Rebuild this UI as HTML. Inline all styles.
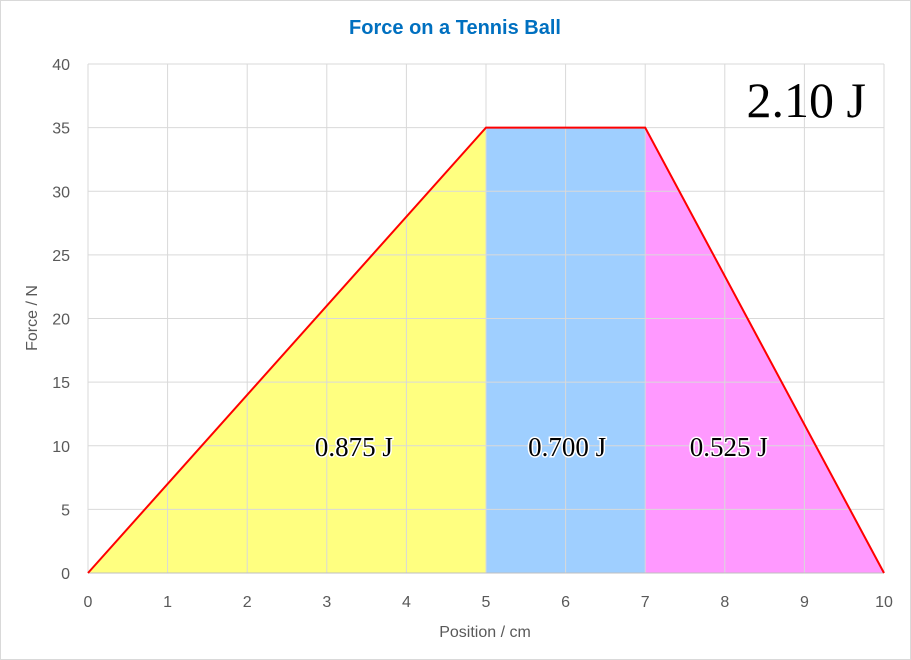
<!DOCTYPE html>
<html><head><meta charset="utf-8"><style>
body{margin:0;background:#fff}
svg{display:block}
text{font-family:"Liberation Sans",sans-serif}
</style></head><body>
<svg id="c" width="911" height="660">
<rect x="0.5" y="0.5" width="910" height="659" fill="#fff" stroke="#d9d9d9"/>
<text x="455" y="34" text-anchor="middle" font-size="20" font-weight="bold" fill="#0070c0">Force on a Tennis Ball</text>
<g id="areas"></g><g id="grid"></g><g id="line"></g><g id="labels"></g>
<text x="485" y="637" text-anchor="middle" font-size="16" fill="#595959">Position / cm</text>
<text transform="translate(37,318) rotate(-90)" text-anchor="middle" font-size="16" fill="#595959">Force / N</text>
<text x="866" y="117" text-anchor="end" font-size="50" fill="#000" style="font-family:'Liberation Serif',serif">2.10 J</text>
</svg>
<script>
const xs=[0,5,7,10];
const fs=[0,35,35,0];
const regionLabels=["0.875 J","0.700 J","0.525 J"];
const regionColors=["#ffff80","#9fcfff","#ff99ff"];
const xTicks=[0,1,2,3,4,5,6,7,8,9,10];
const yTicks=[0,5,10,15,20,25,30,35,40];
const X=v=>88+v*79.6, Y=v=>573-v*12.725;
const NS="http://www.w3.org/2000/svg";
function mk(p,t,a){const e=document.createElementNS(NS,t);for(const k in a)e.setAttribute(k,a[k]);document.getElementById(p).appendChild(e);return e;}
yTicks.forEach(v=>{
 const l=mk('grid','line',{x1:88,x2:884,y1:Y(v),y2:Y(v),stroke:'#d9d9d9'});
 
 
 const t=mk('grid','text',{x:70,y:Y(v)+6,'text-anchor':'end','font-size':16,fill:'#595959'});t.textContent=v;
 
 
});
xTicks.forEach(v=>{
 const l=mk('grid','line',{x1:X(v),x2:X(v),y1:Y(0),y2:Y(40),stroke:'#d9d9d9'});
 
 
 const t=mk('grid','text',{x:X(v),y:Y(0)+34,'text-anchor':'middle','font-size':16,fill:'#595959'});t.textContent=v;
 
 
});
const offs=[-0.3,0.02,-0.45];
for(let i=0;i<3;i++){
 const pts=`${X(xs[i])},${Y(0)} ${X(xs[i])},${Y(fs[i])} ${X(xs[i+1])},${Y(fs[i+1])} ${X(xs[i+1])},${Y(0)}`;
 const p=mk('areas','polygon',{points:pts,fill:regionColors[i]});
 
 
 const cx=X(i==0?3.34:(xs[i]+xs[i+1])/2+offs[i]);
 const t=mk('labels','text',{x:cx,y:Y(10)+10,'text-anchor':'middle','font-size':27,fill:'#000',stroke:'#fff','stroke-width':3,'paint-order':'stroke',style:"font-family:'Liberation Serif',serif"});
 t.textContent=regionLabels[i];
 
 
}
mk('grid','line',{x1:88,x2:884,y1:Y(0),y2:Y(0),stroke:'#bfbfbf'});
const ln=mk('line','polyline',{points:xs.map((x,i)=>X(x)+','+Y(fs[i])).join(' '),fill:'none',stroke:'#ff0000','stroke-width':2});


</script>
</body></html>
